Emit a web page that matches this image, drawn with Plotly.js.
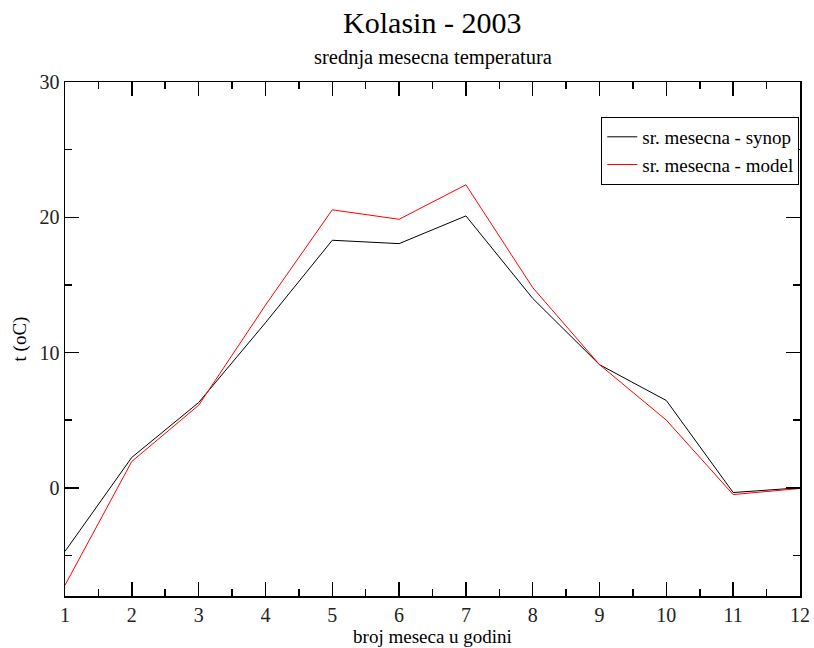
<!DOCTYPE html>
<html>
<head>
<meta charset="utf-8">
<script src="https://cdn.plot.ly/plotly-3.0.1.min.js"></script>
<style>body{margin:0;padding:0;background:#fff;}#chart{width:814px;height:648px;}</style>
</head>
<body>
<div id="chart"></div>
<script>
var months = [1,2,3,4,5,6,7,8,9,10,11,12];
var synop = [-4.7, 2.25, 6.3, 12.2, 18.3, 18.05, 20.1, 14.0, 9.1, 6.45, -0.35, 0.0];
var model = [-7.2, 1.95, 6.1, 13.5, 20.55, 19.85, 22.4, 14.8, 9.1, 5.0, -0.5, -0.05];
var seriesNames = ['sr. mesecna - synop', 'sr. mesecna - model'];

var serif = 'Liberation Serif, Times New Roman, serif';
var traces = [
  {x: months, y: synop, name: seriesNames[0], mode: 'lines', line: {color: '#000000', width: 1}},
  {x: months, y: model, name: seriesNames[1], mode: 'lines', line: {color: '#ff0000', width: 1}}
];
var axisCommon = {
  showgrid: false, zeroline: false, showline: true, linecolor: '#000', linewidth: 1.5,
  mirror: 'ticks', ticks: 'inside', ticklen: 14, tickwidth: 1.5, tickcolor: '#000',
  tickfont: {family: serif, size: 20, color: '#222'}
};
var layout = {
  width: 814, height: 648,
  margin: {l: 65, r: 14, t: 82, b: 52},
  paper_bgcolor: '#fff', plot_bgcolor: '#fff',
  showlegend: true,
  title: {text: 'Kolasin - 2003', font: {family: serif, size: 30, color: '#000'}, x: 0.531, xanchor: 'center', y: 0.965, yanchor: 'middle'},
  xaxis: Object.assign({}, axisCommon, {
    range: [1, 12], tickvals: months, ticktext: months.map(String),
    minor: {dtick: 0.5, tick0: 1, ticklen: 7, tickwidth: 1.5, tickcolor: '#000', ticks: 'inside'},
    title: {text: 'broj meseca u godini', font: {family: serif, size: 19, color: '#000'}, standoff: 5}
  }),
  yaxis: Object.assign({}, axisCommon, {
    range: [-8, 30], tickvals: [0, 10, 20, 30],
    minor: {dtick: 5, tick0: 0, ticklen: 7, tickwidth: 1.5, tickcolor: '#000', ticks: 'inside'},
    title: {text: 't (oC)', font: {family: serif, size: 19, color: '#000'}, standoff: 8}
  }),
  legend: {
    x: 0.999, xanchor: 'right', y: 0.932, yanchor: 'top',
    bordercolor: '#000', borderwidth: 1, bgcolor: '#fff',
    font: {family: serif, size: 19, color: '#000'},
    tracegroupgap: 0, itemwidth: 30
  },
  annotations: [{
    text: 'srednja mesecna temperatura', xref: 'paper', yref: 'paper', x: 0.5, y: 1.0, yshift: 25,
    xanchor: 'center', yanchor: 'middle', showarrow: false,
    font: {family: serif, size: 20.5, color: '#000'}
  }]
};
Plotly.newPlot('chart', traces, layout, {displayModeBar: false, staticPlot: true});
</script>
</body>
</html>
